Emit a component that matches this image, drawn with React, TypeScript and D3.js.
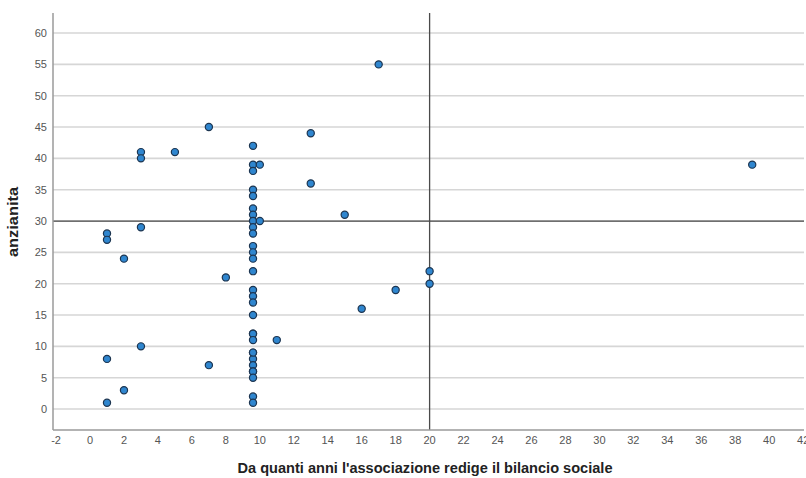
import * as d3 from "d3";

// anni di bilancio sociale (x) vs anzianita (y)
const anniBilancio = [
  9.6, 9.6, 9.6, 9.6, 9.6, 9.6, 9.6, 9.6, 9.6, 9.6, 9.6, 9.6, 9.6, 9.6, 9.6,
  9.6, 9.6, 9.6, 9.6, 9.6, 9.6, 9.6, 9.6, 9.6, 9.6, 9.6, 9.6, 9.6, 9.6, 9.6,
  10, 10,
  1, 1, 2, 3, 3, 3, 5, 7, 13, 13, 17, 15, 8, 11, 7, 3, 1, 2, 1, 16, 18, 20, 20, 39,
];
const anzianita = [
  42, 39, 38, 35, 34, 32, 31, 30, 29, 28, 26, 25, 24, 22, 19,
  18, 17, 15, 12, 12, 11, 9, 8, 7, 6, 6, 5, 2, 1, 9,
  39, 30,
  28, 27, 24, 29, 41, 40, 41, 45, 44, 36, 55, 31, 21, 11, 7, 10, 8, 3, 1, 16, 19, 22, 20, 39,
];
const xTicks = d3.range(-2, 43, 2);
const yTicks = d3.range(0, 61, 5);
const refX = 20;
const refY = 30;

const W = 806, H = 478;
const M = { left: 53, right: 2, top: 13, bottom: 48 };

export default function App() {
  const x = d3.scaleLinear([-2.18, 42.05], [M.left, W - M.right]);
  const y = d3.scaleLinear([-3.35, 63.2], [H - M.bottom, M.top]);
  const font = "'Liberation Sans', Arial, sans-serif";
  const pts = anniBilancio.map((v, i) => [v, anzianita[i]] as [number, number]);

  return (
    <svg width={W} height={H} style={{ position: "absolute", left: 0, top: 0, background: "#fff" }}>
      {/* gridlines */}
      {yTicks.map((t) => (
        <line key={t} x1={M.left} x2={W - M.right} y1={y(t)} y2={y(t)} stroke="#d6d6d6" strokeWidth={1.6} />
      ))}
      {/* reference lines */}
      <line x1={M.left} x2={W - M.right} y1={y(refY)} y2={y(refY)} stroke="#4a4a4a" strokeWidth={1.3} />
      <line x1={x(refX)} x2={x(refX)} y1={M.top} y2={H - M.bottom} stroke="#4a4a4a" strokeWidth={1.3} />

      {/* axes */}
      <line x1={M.left} x2={M.left} y1={M.top} y2={H - M.bottom} stroke="#9a9a9a" strokeWidth={1.5} />
      <line x1={M.left} x2={W - M.right} y1={H - M.bottom} y2={H - M.bottom} stroke="#9a9a9a" strokeWidth={1.5} />

      {yTicks.map((t) => (
        <text key={t} x={M.left - 6} y={y(t)} dy="0.35em" textAnchor="end"
          fontFamily={font} fontSize={11} fill="#555">{t}</text>
      ))}
      {xTicks.map((t) => (
        <text key={t} x={x(t)} y={H - M.bottom + 14} textAnchor="middle"
          fontFamily={font} fontSize={11} fill="#555">{t}</text>
      ))}

      {/* points */}
      {pts.map(([a, b], i) => (
        <circle key={i} cx={x(a)} cy={y(b)} r={3.6} fill="#2f86cf" stroke="#1d3550" strokeWidth={1.2} />
      ))}

      {/* titles */}
      <text x={425} y={473} textAnchor="middle" fontFamily={font} fontSize={15} fontWeight="bold"
        fill="#222" textLength={375} lengthAdjust="spacingAndGlyphs">
        Da quanti anni l'associazione redige il bilancio sociale
      </text>
      <text transform={`translate(18, ${222}) rotate(-90)`} textAnchor="middle" fontFamily={font}
        fontSize={14} fontWeight="bold" fill="#222" textLength={70} lengthAdjust="spacingAndGlyphs">
        anzianita
      </text>
    </svg>
  );
}
